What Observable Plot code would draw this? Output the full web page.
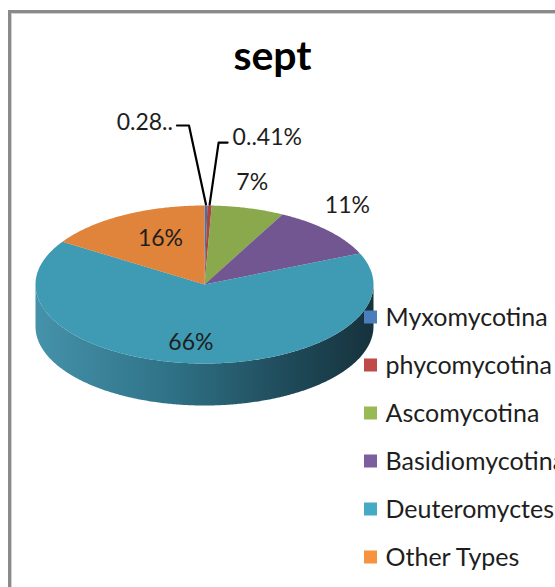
<!DOCTYPE html>
<html><head><meta charset="utf-8">
<script src="https://cdn.jsdelivr.net/npm/d3@7"></script>
<script src="https://cdn.jsdelivr.net/npm/@observablehq/plot@0.6"></script>
<style>
html,body{margin:0;padding:0;background:#fff;}
#wrap{position:relative;width:555px;height:587px;overflow:hidden;background:#fff;}
#frame{position:absolute;left:8px;top:10px;width:700px;height:700px;border-left:3px solid #8a8a8a;border-top:3px solid #8a8a8a;box-shadow:inset 1px 1px 0 #d0d0d0;}
#chart{position:absolute;left:0;top:0;}
</style></head><body>
<div id="wrap"><div id="frame"></div><div id="chart"></div></div>
<script>
// ---- data ----
const title = "sept";
const categories = ["Myxomycotina", "phycomycotina", "Ascomycotina", "Basidiomycotina", "Deuteromyctes", "Other Types"];
const values = [0.28, 0.41, 7, 11, 66, 16];
const labels = ["0.28..", "0..41%", "7%", "11%", "66%", "16%"];
const colors = ["#4a7ebb", "#be4b48", "#98b954", "#7d5fa0", "#46aac5", "#f69240"];

// ---- layout ----
const G = {cx: 204, cy: 284, rx: 169, ry: 79, depth: 42};
const labelLayout = [
  {kind: "leader", elbow: [-17, -80], tail: -12, gap: 4, dy: -3},
  {kind: "leader", elbow: [9, -63], tail: 9, gap: 5, dy: -5},
  {kind: "out", off: [4, -26]},
  {kind: "out", off: [19, -25]},
  {kind: "in", k: 0.68, off: [-4, 4.5]},
  {kind: "in", k: 0.68, off: [11, 1]}
];
const legendLayout = {x: 370.5, y0: 317, step: 48, size: 13, textX: 385};

const total = d3.sum(values);
let acc = 0;
const slices = categories.map((name, i) => {
  const a0 = acc / total * 2 * Math.PI; acc += values[i];
  const a1 = acc / total * 2 * Math.PI;
  return {name, i, a0, a1, mid: (a0 + a1) / 2};
});
const P = (a, k = 1, dz = 0) => [G.cx + k * G.rx * Math.sin(a), G.cy - k * G.ry * Math.cos(a) + dz];
const arcPts = (a0, a1, dz = 0) => {
  const n = Math.max(2, Math.ceil((a1 - a0) / 0.01));
  return d3.range(n + 1).map(j => P(a0 + (a1 - a0) * j / n, 1, dz));
};

// top faces
const topRows = [];
for (const s of slices) {
  topRows.push({name: s.name, x: G.cx, y: G.cy});
  for (const [x, y] of arcPts(s.a0, s.a1)) topRows.push({name: s.name, x, y});
}
// side (front half only)
const sideRows = [];
for (const s of slices) {
  const b0 = Math.max(s.a0, Math.PI / 2), b1 = Math.min(s.a1, 3 * Math.PI / 2);
  if (b1 <= b0) continue;
  const upper = arcPts(b0, b1, 0), lower = arcPts(b0, b1, G.depth).reverse();
  for (const [x, y] of upper.concat(lower)) sideRows.push({name: s.name, x, y});
}
// labels + leaders
const labelRows = [], leaderRows = [];
slices.forEach((s, i) => {
  const L = labelLayout[i];
  if (L.kind === "leader") {
    const e = P(s.mid);
    const el = [e[0] + L.elbow[0], e[1] + L.elbow[1]];
    const t = [el[0] + L.tail, el[1]];
    leaderRows.push({name: s.name, x: e[0], y: e[1] - 1}, {name: s.name, x: el[0], y: el[1]}, {name: s.name, x: t[0], y: t[1]});
    labelRows.push({text: labels[i], x: t[0] + Math.sign(L.tail) * L.gap, y: t[1] + L.dy, anchor: L.tail < 0 ? "end" : "start"});
  } else if (L.kind === "out") {
    const e = P(s.mid);
    labelRows.push({text: labels[i], x: e[0] + L.off[0], y: e[1] + L.off[1], anchor: "middle"});
  } else {
    const e = P(s.mid, L.k);
    labelRows.push({text: labels[i], x: e[0] + L.off[0], y: e[1] + L.off[1], anchor: "middle"});
  }
});
const legendRows = categories.map((name, i) => ({
  name,
  y: legendLayout.y0 + i * legendLayout.step
}));
const titleRows = [{text: title, x: 272, y: 56}];

const labelMark = anchor => Plot.text(labelRows.filter(d => d.anchor === anchor),
  {x: "x", y: "y", text: "text", textAnchor: anchor, fontSize: 23, fill: "#1e1e1e", lineAnchor: "middle"});

const chart = Plot.plot({
  width: 555, height: 587, margin: 0,
  x: {domain: [0, 555], range: [0, 555], axis: null},
  y: {domain: [0, 587], range: [0, 587], axis: null},
  color: {domain: categories, range: colors},
  style: {background: "transparent", fontFamily: "Lato, sans-serif", overflow: "visible"},
  marks: [
    Plot.line(sideRows, {x: "x", y: "y", z: "name", fill: "url(#sideGrad)", stroke: "none", curve: "linear-closed"}),
    Plot.line(topRows, {x: "x", y: "y", z: "name", fill: "name", stroke: "none", curve: "linear-closed"}),
    Plot.line(topRows, {x: "x", y: "y", z: "name", fill: "black", fillOpacity: 0.09, stroke: "none", curve: "linear-closed"}),
    Plot.line(leaderRows, {x: "x", y: "y", z: "name", stroke: "#000", strokeWidth: 2.2, fill: "none"}),
    labelMark("start"), labelMark("middle"), labelMark("end"),
    Plot.text(titleRows, {x: "x", y: "y", text: "text", textAnchor: "middle", fontSize: 41, fontWeight: "bold", fill: "#000", lineAnchor: "middle"}),
    Plot.rect(legendRows, {
      x1: () => legendLayout.x - legendLayout.size / 2, x2: () => legendLayout.x + legendLayout.size / 2,
      y1: d => d.y - legendLayout.size / 2, y2: d => d.y + legendLayout.size / 2, fill: "name"
    }),
    Plot.text(legendRows, {x: () => legendLayout.textX, y: "y", text: "name", textAnchor: "start", fontSize: 25, fill: "#1e1e1e", lineAnchor: "middle"})
  ]
});
const svg = d3.select(chart);
const defs = svg.insert("defs", ":first-child");
const grad = defs.append("linearGradient").attr("id", "sideGrad")
  .attr("gradientUnits", "userSpaceOnUse")
  .attr("x1", G.cx - G.rx).attr("x2", G.cx + G.rx).attr("y1", 0).attr("y2", 0);
[[0, "#4592aa"], [0.4, "#2f7287"], [0.75, "#1f4a59"], [1, "#16323c"]].forEach(([o, c]) =>
  grad.append("stop").attr("offset", o).attr("stop-color", c));
document.getElementById("chart").appendChild(chart);
</script>
</body></html>
